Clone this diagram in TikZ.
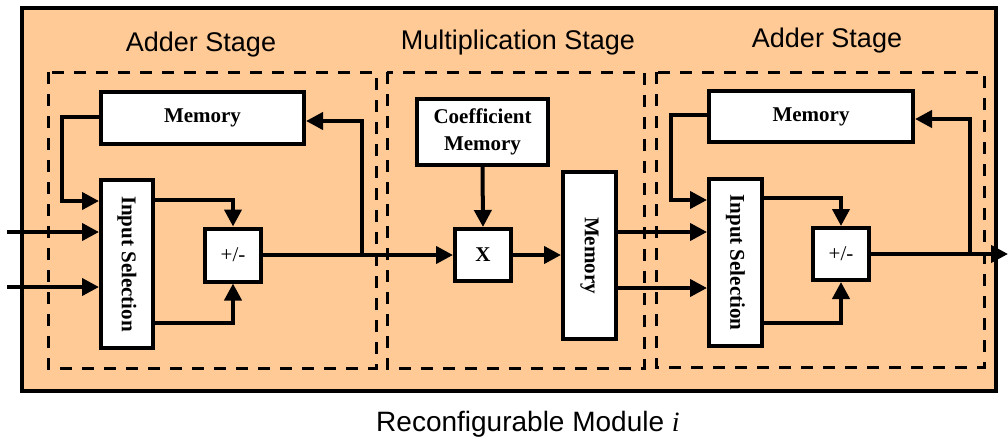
\documentclass[tikz,border=0pt]{standalone}
\usepackage{fontspec}
\setmainfont{Liberation Serif}
\setsansfont{Liberation Sans}
\usetikzlibrary{arrows.meta}
\definecolor{peach}{HTML}{FFCA96}

\begin{document}
\begin{tikzpicture}[x=1pt,y=-1pt,
  blk/.style={draw, line width=4pt, fill=white, inner sep=0pt, align=center,
    font=\bfseries\fontsize{21}{27}\selectfont},
  wire/.style={line width=4pt},
  arr/.style={wire, -{Triangle[length=17pt,width=17pt]}},
  stagebox/.style={line width=3pt, dash pattern=on 12pt off 10pt},
  lbl/.style={font=\sffamily\fontsize{27}{30}\selectfont}]

\useasboundingbox (0,0) rectangle (1008,444);
\fill[white] (0,0) rectangle (1008,444);

% module frame
\draw[line width=4pt, fill=peach] (22,8) rectangle (996,391);

% stage frames
\draw[stagebox] (48,72) rectangle (376,368);
\draw[stagebox] (387,72) rectangle (644,368);
\draw[stagebox] (656,72) rectangle (984,367);

% stage titles
\node[lbl] (t1) at (201,45) {Adder Stage};
\node[lbl] (t2) at (518,43) {Multiplication Stage};
\node[lbl] (t3) at (827,41) {Adder Stage};

% first adder stage
\node[blk, minimum width=203pt, minimum height=52pt] (mem1) at (202.5,118) {Memory};
\node[blk, minimum width=52pt, minimum height=168pt] (is1) at (127,264)
  {\rotatebox{-90}{Input Selection}};
\node[blk, minimum width=56pt, minimum height=53pt, font=\fontsize{21}{24}\selectfont] (pm1) at (233,255) {+/-};

% multiplication stage
\node[blk, minimum width=131pt, minimum height=66pt] (coef) at (482.5,132)
  {Coefficient\\Memory};
\node[blk, minimum width=56pt, minimum height=52pt] (mul) at (483,255) {X};
\node[blk, minimum width=53pt, minimum height=167pt] (mem2) at (589.5,255.5)
  {\rotatebox{-90}{Memory}};

% second adder stage
\node[blk, minimum width=204pt, minimum height=51pt] (mem3) at (811,116.5) {Memory};
\node[blk, minimum width=53pt, minimum height=167pt] (is2) at (735.5,262.5)
  {\rotatebox{-90}{Input Selection}};
\node[blk, minimum width=56pt, minimum height=52pt, font=\fontsize{21}{24}\selectfont] (pm2) at (841,254) {+/-};

% free ends and junctions
\coordinate (ina) at (7,232);
\coordinate (inb) at (7,287);
\coordinate (br1) at (362,255);
\coordinate (br2) at (970,254);
\coordinate (out) at (1008,254);

% first adder stage wiring
\draw[arr] (ina) -- (is1.west |- ina);
\draw[arr] (inb) -- (is1.west |- inb);
\draw[arr] (mem1.west |- 0,117) -| (62,201) -- (is1.west |- 0,201);
\draw[arr] (is1.east |- 0,200) -| (pm1.north);
\draw[arr] (is1.east |- 0,323) -| (pm1.south);
\draw[arr] (pm1.east) -- (pm1.east -| mul.west);
\draw[arr] (br1) |- (mem1.east |- 0,121);

% multiplication stage wiring
\draw[arr] (coef.south) -- (mul.north);
\draw[arr] (mul.east) -- (mul.east -| mem2.west);
\draw[arr] (mem2.east |- 0,232) -- (is2.west |- 0,232);
\draw[arr] (mem2.east |- 0,288) -- (is2.west |- 0,288);

% second adder stage wiring
\draw[arr] (mem3.west |- 0,115) -| (671,200) -- (is2.west |- 0,200);
\draw[arr] (is2.east |- 0,198) -| (pm2.north);
\draw[arr] (is2.east |- 0,323) -| (pm2.south);
\draw[arr] (pm2.east) -- (out);
\draw[arr] (br2) |- (mem3.east |- 0,119);

% caption
\node[font=\sffamily\fontsize{28}{30}\selectfont] (cap) at (528,424)
  {Reconfigurable Module \textit{\rmfamily i}};
\end{tikzpicture}
\end{document}
